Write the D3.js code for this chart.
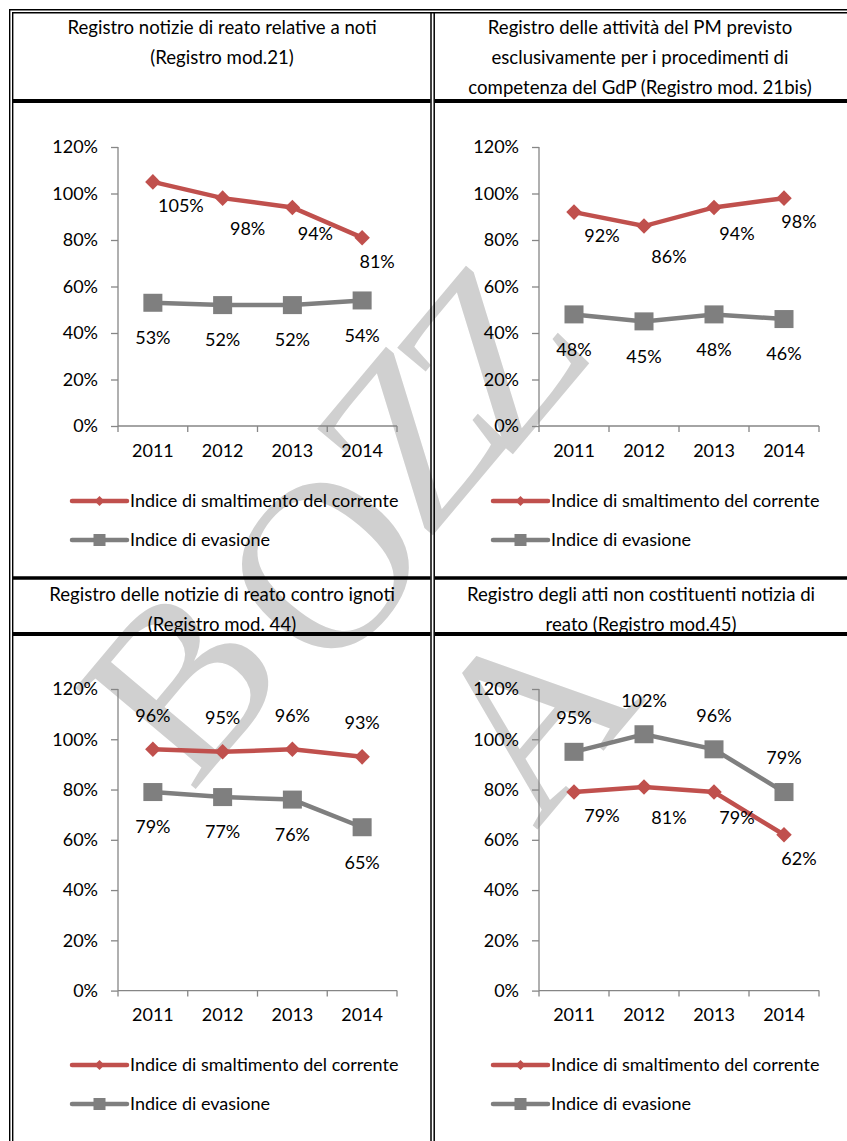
<!DOCTYPE html>
<html>
<head>
<meta charset="utf-8">
<script src="https://cdn.jsdelivr.net/npm/d3@7"></script>
<style>
  body { margin: 0; background: #fff; }
  svg text { font-family: Lato, "Open Sans", sans-serif; fill: #000; }
</style>
</head>
<body>
<div id="plot"></div>
<script>
  // dati
  var years = ["2011", "2012", "2013", "2014"];
  var yTicks = [0, 0.2, 0.4, 0.6, 0.8, 1.0, 1.2];
  var seriesNames = ["Indice di smaltimento del corrente", "Indice di evasione"];

  var titles21 = ["Registro notizie di reato relative a noti", "(Registro mod.21)"];
  var smaltimento21 = [1.05, 0.98, 0.94, 0.81];
  var evasione21 = [0.53, 0.52, 0.52, 0.54];

  var titles21bis = ["Registro delle attività del PM previsto", "esclusivamente per i procedimenti di", "competenza del GdP (Registro mod. 21bis)"];
  var smaltimento21bis = [0.92, 0.86, 0.94, 0.98];
  var evasione21bis = [0.48, 0.45, 0.48, 0.46];

  var titles44 = ["Registro delle notizie di reato contro ignoti", "(Registro mod. 44)"];
  var smaltimento44 = [0.96, 0.95, 0.96, 0.93];
  var evasione44 = [0.79, 0.77, 0.76, 0.65];

  var titles45 = ["Registro degli atti non costituenti notizia di", "reato (Registro mod.45)"];
  var smaltimento45 = [0.79, 0.81, 0.79, 0.62];
  var evasione45 = [0.95, 1.02, 0.96, 0.79];

  // posizione etichette (dx, dy dal punto)
  var belowRight = [[28, 24], [25, 31], [23, 26], [15, 24]];
  var below = [[0, 35], [0, 35], [0, 35], [0, 35]];
  var above = [[0, -34], [0, -34], [0, -34], [0, -34]];

  var RED = "#c0504d", GREY = "#7f7f7f";
  var fmt = d3.format(".0%");

  var W = 847, H = 1141;
  var svg = d3.select("#plot").append("svg")
    .attr("width", W).attr("height", H);

  // filigrana "BOZZA" (lettere sparse come nel documento)
  var wmLetters = [["B", 182, 682], ["O", 325, 565], ["Z", 412, 437], ["Z", 492, 356], ["A", 531, 714]];
  svg.append("g").attr("class", "watermark")
    .selectAll("text").data(wmLetters).enter().append("text")
    .attr("transform", function(d) { return "translate(" + d[1] + "," + d[2] + ") rotate(-50)"; })
    .attr("text-anchor", "middle")
    .attr("dy", "0.33em")
    .style("font-family", "'Liberation Serif', 'DejaVu Serif', serif")
    .style("font-size", "240px")
    .style("fill", "#d0d0d0")
    .text(function(d) { return d[0]; });

  var charts = [
    {titles: titles21, red: smaltimento21, grey: evasione21, redLab: belowRight, greyLab: below,
     left: 118, right: 397, top: 147, bottom: 426, titleX: 222, titleY: 27, legY: 501},
    {titles: titles21bis, red: smaltimento21bis, grey: evasione21bis, redLab: belowRight, greyLab: below,
     left: 539, right: 819, top: 147, bottom: 426, titleX: 640, titleY: 27, legY: 501},
    {titles: titles44, red: smaltimento44, grey: evasione44, redLab: above, greyLab: below,
     left: 118, right: 397, top: 689, bottom: 990.6, titleX: 222, titleY: 594, legY: 1065},
    {titles: titles45, red: smaltimento45, grey: evasione45, redLab: belowRight, greyLab: above,
     left: 539, right: 819, top: 689, bottom: 990.6, titleX: 641, titleY: 594, legY: 1065}
  ];

  function diamond(sel, s) {
    sel.append("path").attr("d", d3.symbol(d3.symbolSquare, s * s)())
      .attr("transform", "rotate(45)");
  }

  charts.forEach(function(c) {
    var x = d3.scaleBand().domain(years).range([c.left, c.right]);
    var y = d3.scaleLinear().domain([0, 1.2]).range([c.bottom, c.top]);
    var g = svg.append("g");

    // titolo
    g.selectAll(".title").data(c.titles).enter().append("text")
      .attr("x", c.titleX)
      .attr("y", function(d, i) { return c.titleY + i * 30; })
      .attr("dy", "0.35em")
      .attr("text-anchor", "middle")
      .style("font-size", "18.6px")
      .text(function(d) { return d; });

    // assi
    var yAxis = g.append("g")
      .attr("transform", "translate(" + c.left + ",0)")
      .call(d3.axisLeft(y).tickValues(yTicks).tickFormat(fmt).tickSize(7).tickPadding(13));
    var xAxis = g.append("g")
      .attr("transform", "translate(0," + c.bottom + ")")
      .call(d3.axisBottom(x).tickSize(0).tickPadding(18));
    // tacche sui confini delle categorie
    xAxis.selectAll(".bound").data(d3.range(years.length + 1)).enter().append("line")
      .attr("x1", function(i) { return c.left + i * x.step(); })
      .attr("x2", function(i) { return c.left + i * x.step(); })
      .attr("y1", 0).attr("y2", 6);
    [yAxis, xAxis].forEach(function(a) {
      a.select(".domain").attr("stroke", "#868686").attr("stroke-width", 1.3)
        .attr("d", a === yAxis ? "M0," + c.top + "V" + c.bottom : "M" + c.left + ",0H" + c.right);
      a.selectAll("line").attr("stroke", "#868686").attr("stroke-width", 1.3);
      a.selectAll("text").style("font-size", "18px").attr("fill", "#000");
    });

    var line = d3.line()
      .x(function(d, i) { return x(years[i]) + x.bandwidth() / 2; })
      .y(function(d) { return y(d); });

    [[c.grey, GREY, "sq", c.greyLab], [c.red, RED, "dm", c.redLab]].forEach(function(s) {
      g.append("path").datum(s[0])
        .attr("d", line).attr("fill", "none")
        .attr("stroke", s[1]).attr("stroke-width", 4.5);
      var pts = g.selectAll(null).data(s[0]).enter().append("g")
        .attr("transform", function(d, i) {
          return "translate(" + (x(years[i]) + x.bandwidth() / 2) + "," + y(d) + ")";
        })
        .attr("fill", s[1]);
      if (s[2] === "sq") pts.append("rect").attr("x", -9.5).attr("y", -9).attr("width", 19).attr("height", 18);
      else diamond(pts, 11);
      g.selectAll(null).data(s[0]).enter().append("text")
        .attr("x", function(d, i) { return x(years[i]) + x.bandwidth() / 2 + s[3][i][0]; })
        .attr("y", function(d, i) { return y(d) + s[3][i][1]; })
        .attr("dy", "0.35em")
        .attr("text-anchor", "middle")
        .style("font-size", "18px")
        .text(function(d) { return fmt(d); });
    });

    // legenda
    var lx = c.left - 46;
    [[RED, "dm"], [GREY, "sq"]].forEach(function(l, i) {
      var ly = c.legY + i * 39;
      var lg = g.append("g");
      lg.append("line").attr("x1", lx).attr("x2", lx + 55).attr("y1", ly).attr("y2", ly)
        .attr("stroke", l[0]).attr("stroke-width", 4.5).attr("stroke-linecap", "round");
      var m = lg.append("g").attr("transform", "translate(" + (lx + 27.5) + "," + ly + ")").attr("fill", l[0]);
      if (l[1] === "sq") m.append("rect").attr("x", -6).attr("y", -6).attr("width", 12).attr("height", 12);
      else diamond(m, 7);
      lg.append("text").attr("x", lx + 58).attr("y", ly).attr("dy", "0.35em")
        .style("font-size", "18px").text(seriesNames[i]);
    });
  });

  // bordi tabella
  var b = svg.append("g").attr("stroke", "#000").attr("fill", "none");
  b.append("line").attr("x1", 9).attr("x2", W).attr("y1", 9.7).attr("y2", 9.7).attr("stroke-width", 1.4);
  b.append("line").attr("x1", 12).attr("x2", W).attr("y1", 12.7).attr("y2", 12.7).attr("stroke-width", 1.4);
  b.append("line").attr("x1", 9.7).attr("x2", 9.7).attr("y1", 9).attr("y2", H).attr("stroke-width", 1.4);
  b.append("line").attr("x1", 12.7).attr("x2", 12.7).attr("y1", 12).attr("y2", H).attr("stroke-width", 1.4);
  b.append("line").attr("x1", 431).attr("x2", 431).attr("y1", 12).attr("y2", H).attr("stroke-width", 1.5);
  b.append("line").attr("x1", 434.2).attr("x2", 434.2).attr("y1", 12).attr("y2", H).attr("stroke-width", 1.5);
  [[101, 4], [578, 3.6], [634, 4]].forEach(function(r) {
    b.append("line").attr("x1", 13).attr("x2", 430.5).attr("y1", r[0]).attr("y2", r[0]).attr("stroke-width", r[1]);
    b.append("line").attr("x1", 435).attr("x2", W).attr("y1", r[0]).attr("y2", r[0]).attr("stroke-width", r[1]);
  });
</script>
</body>
</html>
